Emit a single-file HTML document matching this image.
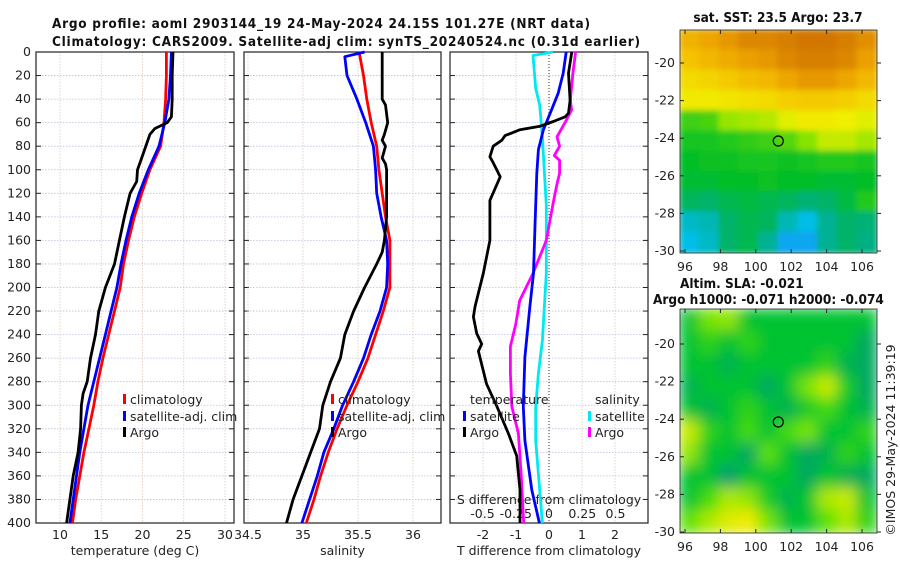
<!DOCTYPE html>
<html><head><meta charset="utf-8"><style>
html,body{margin:0;padding:0;background:#fff;}
svg{display:block;font-family:"DejaVu Sans","Liberation Sans",sans-serif;}
.t{font-size:12.5px;fill:#222;}
.ti{font-size:13.5px;font-weight:bold;fill:#111;font-family:"DejaVu Sans Condensed","DejaVu Sans","Liberation Sans",sans-serif;}
</style></head><body>
<svg id="chart" width="900" height="580" viewBox="0 0 900 580"></svg>
<script>
// ===== data =====
const depthTicks=[0,20,40,60,80,100,120,140,160,180,200,220,240,260,280,300,320,340,360,380,400];
const tempTicks=[10,15,20,25,30];
const salTicks=[34.5,35,35.5,36];
const salTickLabels=["34.5","35","35.5","36"];
const tdiffTicks=[-2,-1,0,1,2];
const sdiffTicks=[-0.5,-0.25,0,0.25,0.5];
const sdiffLabels=["-0.5","-0.25","0","0.25","0.5"];

const tClimDepth=[0,20,40,60,80,100,120,140,160,180,200,220,240,260,280,300,320,340,360,380,400];
const tClim=[22.9,22.9,22.8,22.6,22.2,20.9,19.9,19.0,18.3,17.7,17.3,16.6,15.9,15.2,14.6,14.1,13.5,12.9,12.4,11.9,11.5];
const tSatDepth=[0,20,40,60,80,100,120,140,160,180,200,220,240,260,280,300,320,340,360,380,400];
const tSat=[23.5,23.4,23.2,22.7,22.0,20.7,19.6,18.7,18.0,17.4,16.9,16.2,15.5,14.8,14.1,13.4,12.9,12.4,12.0,11.6,11.2];
const tArgoDepth=[0,20,40,55,60,65,70,80,90,100,110,120,140,160,180,200,220,240,260,280,290,300,320,340,360,380,400];
const tArgo=[23.7,23.6,23.6,23.5,23.0,21.5,20.9,20.4,19.9,19.4,19.3,18.5,17.8,17.2,16.6,15.5,14.7,14.3,13.7,13.3,12.8,12.6,12.5,12.2,11.6,11.2,10.8];

const sClimDepth=[0,20,40,60,80,100,120,140,160,180,200,220,240,260,280,300,320,340,360,380,400];
const sClim=[35.51,35.55,35.58,35.62,35.67,35.69,35.72,35.75,35.79,35.79,35.79,35.73,35.66,35.59,35.50,35.40,35.31,35.23,35.16,35.10,35.03];
const sSatDepth=[0,4,20,40,60,80,100,120,140,160,180,200,220,240,260,280,300,320,340,360,380,400];
const sSat=[35.56,35.38,35.40,35.49,35.57,35.64,35.66,35.67,35.71,35.76,35.77,35.76,35.70,35.62,35.55,35.46,35.36,35.28,35.19,35.13,35.06,34.99];
const sArgoDepth=[0,40,45,60,70,75,80,90,95,100,140,160,170,180,200,220,240,260,280,300,320,340,360,380,400];
const sArgo=[35.72,35.72,35.75,35.77,35.74,35.72,35.75,35.72,35.75,35.76,35.76,35.74,35.72,35.67,35.56,35.46,35.38,35.34,35.25,35.18,35.15,35.07,34.99,34.91,34.85];

const dtSatDepth=[0,18,35,49,66,83,103,145,188,216,259,301,330,372,400];
const dtSat=[0.52,0.43,0.28,0.08,-0.17,-0.32,-0.37,-0.42,-0.47,-0.58,-0.73,-0.78,-0.73,-0.52,-0.29];
const dtArgoDepth=[0,18,41,52,55,59,63,66,71,75,80,89,94,106,126,160,188,216,225,239,248,254,282,301,324,343,372,400];
const dtArgo=[0.69,0.59,0.64,0.59,0.49,0.13,-0.27,-0.88,-1.33,-1.43,-1.69,-1.79,-1.69,-1.48,-1.79,-1.79,-1.99,-2.24,-2.29,-2.19,-2.04,-2.14,-1.89,-1.58,-1.23,-0.98,-0.88,-0.88];
const dsSatDepth=[0,3,31,45,73,130,188,245,273,301,330,372,400];
const dsSat=[0.03,-0.12,-0.10,-0.07,-0.05,-0.02,-0.02,-0.05,-0.08,-0.10,-0.10,-0.07,-0.05];
const dsArgoDepth=[0,18,41,49,58,72,80,88,92,103,112,129,160,188,211,231,250,273,301,324,358,400];
const dsArgo=[0.20,0.18,0.16,0.17,0.13,0.06,0.08,0.04,0.08,0.08,0.06,0.03,-0.02,-0.12,-0.22,-0.25,-0.29,-0.29,-0.28,-0.23,-0.21,-0.19];

const lonTicks=[96,98,100,102,104,106];
const latTicks=[-20,-22,-24,-26,-28,-30];
const sstGrid=[
[25.2,25.4,25.6,25.8,25.8,25.9,26.0,26.0,25.9,25.7],
[24.9,25.1,25.3,25.5,25.6,25.8,25.9,25.9,25.8,25.5],
[24.5,24.6,24.8,25.0,25.1,25.4,25.6,25.6,25.4,25.1],
[24.2,24.2,24.3,24.4,24.5,24.7,24.8,24.8,24.7,24.5],
[22.8,22.9,23.5,23.6,23.7,24.0,24.2,24.2,24.1,24.0],
[22.5,22.5,22.6,22.7,22.8,23.0,23.4,23.8,23.8,23.6],
[22.3,22.4,22.4,22.5,22.5,22.4,22.5,22.6,22.6,22.5],
[22.2,22.2,22.3,22.3,22.4,22.3,22.3,22.2,22.2,22.3],
[21.9,21.8,22.0,22.1,22.0,21.9,21.7,21.8,22.1,22.6],
[21.2,21.3,21.8,22.0,21.9,21.3,21.0,21.5,21.8,21.7],
[21.0,21.2,21.8,22.0,21.5,20.8,20.8,21.5,21.8,21.6]];
const slaGrid=[
[0,0.5,0.6,0,0,0,0,0,0,0],
[0,0.2,0,0.2,0,0,0,0,0,-0.3],
[0,0,-0.2,0,0,0,0,0.2,-0.2,-0.3],
[-0.2,0,0,0,-0.3,0,0.5,0.8,0.1,-0.3],
[0,-0.2,0,0.2,0,-0.2,0.1,0.3,0,-0.2],
[0.8,0.2,0,0.3,0,0.3,0.5,0,0,0.2],
[0.6,0,0,-0.3,0.4,0,-0.3,-0.2,0.2,0],
[0,0,-0.4,0,0,0,-0.3,0,-0.2,-0.3],
[0,0.3,0.7,0.6,0.1,-0.2,0,0.7,0.8,0],
[0.4,0.7,0.9,1.0,0.5,0,0,0.4,0.7,0.2]];
const argoLon=101.27, argoLat=-24.15;

// ===== helpers =====
const svg=document.getElementById('chart');
const NS='http://www.w3.org/2000/svg';
function mk(tag,attrs,parent){const e=document.createElementNS(NS,tag);for(const k in attrs)e.setAttribute(k,attrs[k]);(parent||svg).appendChild(e);return e;}
function txt(s,x,y,cls,anchor,parent){const e=mk('text',{x:x,y:y,class:cls,'text-anchor':anchor||'start'},parent);e.textContent=s;return e;}
const PT=52,PB=523;
const yD=d=>PT+(d/400)*(PB-PT);
function lin(d0,d1,r0,r1){return v=>r0+(v-d0)/(d1-d0)*(r1-r0);}
const xT=lin(10,30,60,225);
const xS=lin(34.5,36,248,413);
const xDT=lin(0,2,549,615);
const xDS=lin(0,0.5,549,615.5);

function panel(name,x0,x1,xs,ticks,labels,xlabel){
  const g=mk('g',{});
  
  
  depthTicks.forEach(d=>{mk('line',{x1:x0,x2:x1,y1:yD(d),y2:yD(d),stroke:'#b8c0e0','stroke-width':0.8,'stroke-dasharray':'1.5,1.5'},g);
    mk('line',{x1:x0,x2:x0+5,y1:yD(d),y2:yD(d),stroke:'#222'},g);mk('line',{x1:x1-5,x2:x1,y1:yD(d),y2:yD(d),stroke:'#222'},g);});
  ticks.forEach((t,i)=>{const x=xs(t);mk('line',{x1:x,x2:x,y1:PT,y2:PB,stroke:'#e0c8b8','stroke-width':0.8,'stroke-dasharray':'1.5,1.5'},g);
    if(labels){const l=txt(labels[i],x,539,'t','middle',g);}});
  mk('rect',{x:x0,y:PT,width:x1-x0,height:PB-PT,fill:'none',stroke:'#222','stroke-width':1.2},g);
  const xl=txt(xlabel,(x0+x1)/2,555,'t','middle',g);xl.setAttribute('font-size','13');
  
  return g;
}
function line(xs,vals,depths,color,name){
  const p=vals.map((v,i)=>(i?'L':'M')+xs(v).toFixed(1)+','+yD(depths[i]).toFixed(1)).join('');
  const e=mk('path',{d:p,fill:'none',stroke:color,'stroke-width':2.8,'stroke-linejoin':'round'});
  
  
}
function legend(x,y,color,label,name){
  const g=mk('g',{});
  
  
  mk('rect',{x:x,y:y-10,width:3,height:10,fill:color},g);
  txt(label,x+7,y,'t','start',g).setAttribute('font-size','13');
}

let e=txt('Argo profile: aoml 2903144_19 24-May-2024 24.15S 101.27E (NRT data)',52,28,'ti');
e.setAttribute('textLength','538');
e=txt('Climatology: CARS2009. Satellite-adj clim: synTS_20240524.nc (0.31d earlier)',52,46,'ti');
e.setAttribute('textLength','588');

panel('temperature-panel',36,234,xT,tempTicks,tempTicks.map(String),'temperature (deg C)');
panel('salinity-panel',244,441,xS,salTicks,salTickLabels,'salinity');
panel('difference-panel',450,648,xDT,tdiffTicks,tdiffTicks.map(String),'T difference from climatology');
depthTicks.forEach(d=>{const l=txt(String(d),31,yD(d)+4,'t','end');});
e=mk('line',{x1:xDT(0),x2:xDT(0),y1:PT,y2:PB,stroke:'#333','stroke-width':1,'stroke-dasharray':'1,2'});

e=txt('S difference from climatology',549,504,'t','middle');e.setAttribute('font-size','13');

sdiffTicks.forEach((t,i)=>{const l=txt(sdiffLabels[i],xDS(t),518,'t','middle');});

line(xT,tClim,tClimDepth,'#ff0000','temp-climatology-line');
line(xT,tSat,tSatDepth,'#0000ff','temp-satellite-line');
line(xT,tArgo,tArgoDepth,'#000000','temp-argo-line');
line(xS,sClim,sClimDepth,'#ff0000','sal-climatology-line');
line(xS,sSat,sSatDepth,'#0000ff','sal-satellite-line');
line(xS,sArgo,sArgoDepth,'#000000','sal-argo-line');
line(xDS,dsSat,dsSatDepth,'#00e8f0','sdiff-satellite-line');
line(xDS,dsArgo,dsArgoDepth,'#ff00ff','sdiff-argo-line');
line(xDT,dtSat,dtSatDepth,'#0000ff','tdiff-satellite-line');
line(xDT,dtArgo,dtArgoDepth,'#000000','tdiff-argo-line');

legend(123,404,'#ff0000','climatology','legend-climatology');
legend(123,421,'#0000ff','satellite-adj. clim','legend-satellite');
legend(123,437,'#000000','Argo','legend-argo');
legend(331,404,'#ff0000','climatology','legend-sal-climatology');
legend(331,421,'#0000ff','satellite-adj. clim','legend-sal-satellite');
legend(331,437,'#000000','Argo','legend-sal-argo');
e=txt('temperature',470,404,'t');e.setAttribute('font-size','13');
legend(463,421,'#0000ff','satellite','legend-tdiff-satellite');
legend(463,437,'#000000','Argo','legend-tdiff-argo');
e=txt('salinity',595,404,'t');e.setAttribute('font-size','13');
legend(588,421,'#00e8f0','satellite','legend-sdiff-satellite');
legend(588,437,'#ff00ff','Argo','legend-sdiff-argo');

function sstColor(v){
  const stops=[[20.5,[30,130,255]],[21.0,[0,190,230]],[21.6,[0,175,130]],[22.3,[0,190,40]],[23.3,[120,225,0]],[24.1,[240,240,0]],[24.9,[245,195,0]],[25.5,[235,160,0]],[26.1,[205,110,0]]];
  return interp(stops,v);
}
function slaColor(v){
  const stops=[[-0.4,[0,160,110]],[0,[0,195,50]],[0.4,[90,225,0]],[0.8,[200,235,0]],[1.0,[240,235,0]]];
  return interp(stops,v);
}
function interp(stops,v){
  if(v<=stops[0][0])return 'rgb('+stops[0][1]+')';
  for(let i=1;i<stops.length;i++){if(v<=stops[i][0]){const a=stops[i-1],b=stops[i],f=(v-a[0])/(b[0]-a[0]);
    return 'rgb('+a[1].map((c,k)=>Math.round(c+(b[1][k]-c)*f)).join(',')+')';}}
  return 'rgb('+stops[stops.length-1][1]+')';
}
const defs=mk('defs',{});
const flt=mk('filter',{id:'blur',x:'-10%',y:'-10%',width:'120%',height:'120%'},defs);
mk('feGaussianBlur',{stdDeviation:'7'},flt);
const flt2=mk('filter',{id:'blur2'},defs);
mk('feGaussianBlur',{stdDeviation:'3'},flt2);
function mapPanel(name,x0,x1,y0,y1,latTop,latBot,grid,colorFn,filter,clipId){
  const lonX=lin(96,106,685,862), latY=lin(-20,-30,latTop,latBot);
  const cp=mk('clipPath',{id:clipId},defs);mk('rect',{x:x0,y:y0,width:x1-x0,height:y1-y0},cp);
  const g=mk('g',{'clip-path':'url(#'+clipId+')'});
  
  
  const inner=mk('g',{filter:'url(#'+filter+')'},g);
  const rows=grid.length,cols=grid[0].length,cw=(x1-x0)/cols,rh=(y1-y0)/rows;
  grid.forEach((row,r)=>row.forEach((v,c)=>{
    const cell=mk('rect',{x:(x0+c*cw-1).toFixed(1),y:(y0+r*rh-1).toFixed(1),width:(cw+2).toFixed(1),height:(rh+2).toFixed(1),fill:colorFn(v)},inner);
    
    
  }));
  const frame=mk('g',{});
  mk('rect',{x:x0,y:y0,width:x1-x0,height:y1-y0,fill:'none',stroke:'#222','stroke-width':0.8},frame);
  lonTicks.forEach(t=>{const x=lonX(t);mk('line',{x1:x,x2:x,y1:y1,y2:y1-4,stroke:'#222'},frame);mk('line',{x1:x,x2:x,y1:y0,y2:y0+4,stroke:'#222'},frame);
    const l=txt(String(t),x,y1+18,'t','middle',frame);});
  latTicks.forEach(t=>{const y=latY(t);mk('line',{x1:x0,x2:x0+4,y1:y,y2:y,stroke:'#222'},frame);mk('line',{x1:x1,x2:x1+4,y1:y,y2:y,stroke:'#222'},frame);
    const l=txt(String(t),x0-5,y+4,'t','end',frame);});
  const m=mk('circle',{cx:lonX(argoLon),cy:latY(argoLat),r:5,fill:'none',stroke:'#000','stroke-width':1.2});
  
  
}
mapPanel('sst-map',680,877,30,253,63,251,sstGrid,sstColor,'blur2','clipSst');
mapPanel('sla-map',680,877,309,533,344,532,slaGrid,slaColor,'blur','clipSla');
e=txt('sat. SST: 23.5 Argo: 23.7',778,22,'ti','middle');e.setAttribute('font-size','13');
e=txt('Altim. SLA: -0.021',680,288,'ti');e.setAttribute('font-size','13');
e=txt('Argo h1000: -0.071 h2000: -0.074',653,304,'ti');e.setAttribute('font-size','13');
e=txt('©IMOS 29-May-2024 11:39:19',0,0,'t','middle');e.setAttribute('transform','translate(895,440) rotate(-90)');e.setAttribute('font-size','13');

</script>
</body></html>
